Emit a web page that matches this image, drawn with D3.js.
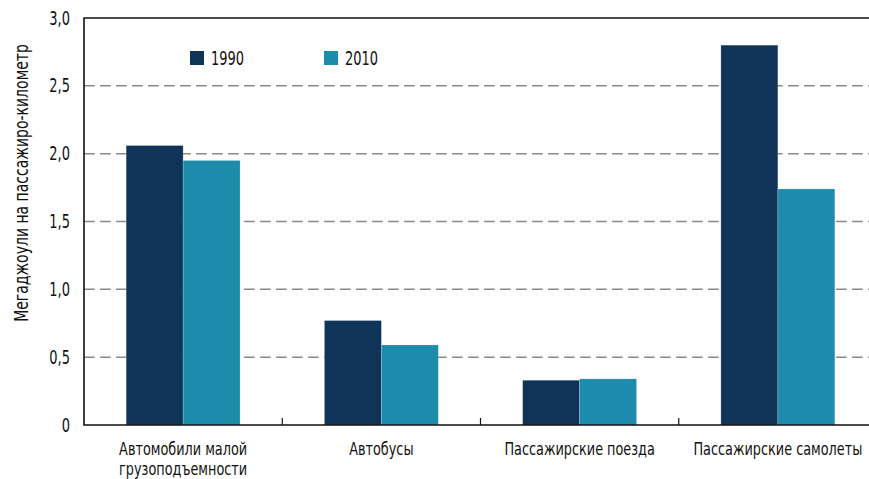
<!DOCTYPE html>
<html>
<head>
<meta charset="utf-8">
<script src="https://cdn.jsdelivr.net/npm/d3@7"></script>
<style>
  html, body { margin: 0; padding: 0; background: #fff; }
  svg { display: block; font-family: "Liberation Sans Narrow", "DejaVu Sans Condensed", sans-serif; }
</style>
</head>
<body>
<svg id="chart" width="869" height="479"></svg>
<script>
// Energy intensity of passenger transport, MJ per passenger-km
const categories = [
  ["Автомобили малой", "грузоподъемности"],
  ["Автобусы"],
  ["Пассажирские поезда"],
  ["Пассажирские самолеты"]
];
const years = ["1990", "2010"];
const values1990 = [2.06, 0.77, 0.33, 2.80];
const values2010 = [1.95, 0.59, 0.34, 1.74];
const yTicks = [0, 0.5, 1.0, 1.5, 2.0, 2.5, 3.0];
const yTitle = "Мегаджоули на пассажиро-километр";
const colors = { "1990": "#0f3457", "2010": "#1d8bab" };

const svg = d3.select("#chart");
const plotLeft = 84, plotTop = 18, plotBottom = 425, plotRight = 877;
const FS = 19;       // label font size
const SX = 0.76;     // horizontal condensing of label glyphs

const catKeys = categories.map((c, i) => i);
const x0 = d3.scaleBand().domain(catKeys).range([plotLeft, plotRight]).paddingInner(0).paddingOuter(0);
const x1 = d3.scaleBand().domain(years).range([0, x0.bandwidth()]).paddingInner(0).paddingOuter(0.74);
const y = d3.scaleLinear().domain([0, 3]).range([plotBottom, plotTop]);

// dashed horizontal gridlines
svg.append("g")
  .selectAll("line")
  .data(yTicks.filter(t => t > 0 && t < 3))
  .join("line")
  .attr("x1", plotLeft).attr("x2", 869)
  .attr("y1", d => y(d)).attr("y2", d => y(d))
  .attr("stroke", "#8a8a8a")
  .attr("stroke-width", 1.5)
  .attr("stroke-dasharray", "10.7,5.3");

// bars
const rows = catKeys.map(i => ({ i, vals: [
  { year: "1990", v: values1990[i] },
  { year: "2010", v: values2010[i] }
] }));

svg.append("g")
  .selectAll("g")
  .data(rows)
  .join("g")
  .attr("transform", d => `translate(${x0(d.i)},0)`)
  .selectAll("rect")
  .data(d => d.vals)
  .join("rect")
  .attr("x", d => x1(d.year))
  .attr("y", d => y(d.v))
  .attr("width", x1.bandwidth())
  .attr("height", d => y(0) - y(d.v))
  .attr("fill", d => colors[d.year])
  .attr("stroke", "rgba(255,255,255,0.35)")
  .attr("stroke-width", 0.6);

// frame: top, left, bottom
svg.append("path")
  .attr("d", `M${869},${plotTop}H${plotLeft}V${plotBottom}H${869}`)
  .attr("fill", "none")
  .attr("stroke", "#111")
  .attr("stroke-width", 1.6);

// category boundary ticks on x axis
svg.append("g")
  .selectAll("line")
  .data(catKeys.slice(1))
  .join("line")
  .attr("x1", d => x0(d)).attr("x2", d => x0(d))
  .attr("y1", plotBottom).attr("y2", plotBottom - 7)
  .attr("stroke", "#111")
  .attr("stroke-width", 1.2);

// y axis labels
const fmt = d => d === 0 ? "0" : d3.format(".1f")(d).replace(".", ",");
svg.append("g")
  .selectAll("text")
  .data(yTicks)
  .join("text")
  .attr("transform", d => `translate(70,${y(d)}) scale(${SX},1)`)
  .attr("dy", "0.35em")
  .attr("text-anchor", "end")
  .attr("font-size", FS)
  .attr("fill", "#111")
  .text(fmt);

// category labels, one text per line
const CFS = 17, CSX = 0.84;
svg.append("g")
  .selectAll("text")
  .data(rows.flatMap(d => categories[d.i].map((t, k) => ({ i: d.i, t, k }))))
  .join("text")
  .attr("transform", d => `translate(${x0(d.i) + x0.bandwidth() / 2},${455 + d.k * 20}) scale(${CSX},1)`)
  .attr("text-anchor", "middle")
  .attr("font-size", CFS)
  .attr("fill", "#111")
  .text(d => d.t);

// y axis title
svg.append("text")
  .attr("transform", `translate(28,183) rotate(-90) scale(0.82,1)`)
  .attr("text-anchor", "middle")
  .attr("font-size", FS)
  .attr("fill", "#111")
  .text(yTitle);

// legend
const legend = svg.append("g")
  .selectAll("g")
  .data(years)
  .join("g")
  .attr("transform", (d, i) => `translate(${190 + i * 134},51)`);
legend.append("rect")
  .attr("width", 14).attr("height", 14)
  .attr("fill", d => colors[d]);
legend.append("text")
  .attr("transform", `translate(21,14) scale(${SX},1)`)
  .attr("font-size", FS)
  .attr("fill", "#111")
  .text(d => d);
</script>
</body>
</html>
